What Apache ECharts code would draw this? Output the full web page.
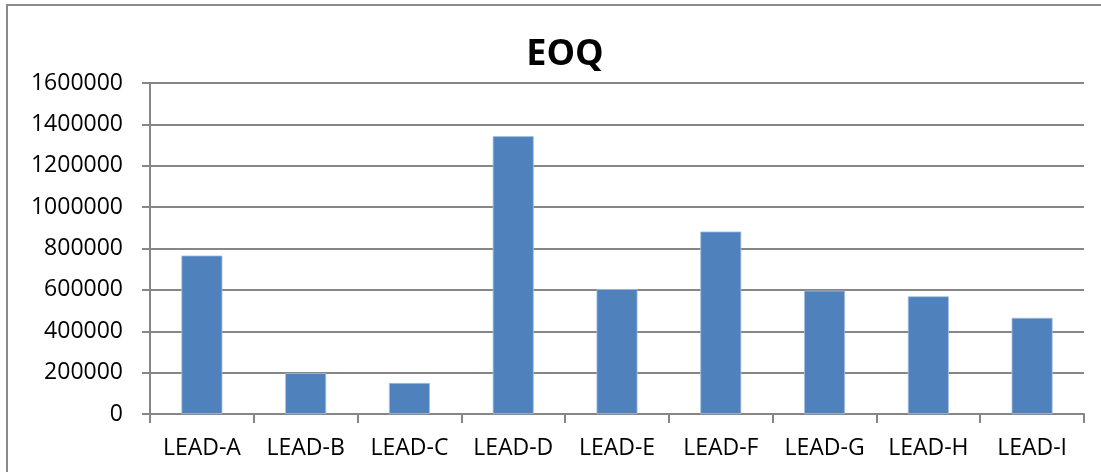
<!DOCTYPE html>
<html>
<head>
<meta charset="utf-8">
<script src="https://cdn.jsdelivr.net/npm/echarts@6/dist/echarts.min.js"></script>
<style>
  html, body { margin: 0; padding: 0; background: #fff; overflow: hidden; }
  #frame {
    position: absolute;
    left: 6px;
    top: 4px;
    width: 1200px;
    height: 600px;
    border: 2px solid #8a8a8a;
    box-sizing: border-box;
  }
  #chart { position: absolute; left: 0; top: 0; width: 1101px; height: 472px; }
</style>
</head>
<body>
<div id="frame"></div>
<div id="chart"></div>
<script>
// 数据
const categories = ['LEAD-A', 'LEAD-B', 'LEAD-C', 'LEAD-D', 'LEAD-E', 'LEAD-F', 'LEAD-G', 'LEAD-H', 'LEAD-I']
const eoqValues = [766000, 198000, 150000, 1343000, 604000, 882000, 596000, 569000, 465000]
const yTicks = { min: 0, max: 1600000, interval: 200000 }

const axisGray = '#868686'
const font = 'Open Sans'

const chart = echarts.init(document.getElementById('chart'))
chart.setOption({
  animation: false,
  title: {
    text: 'EOQ',
    left: 560,
    textAlign: 'center',
    top: 32,
    textStyle: { fontFamily: font, fontWeight: 'bold', fontSize: 36, color: '#000' },
  },
  grid: { left: 150, right: 17, top: 83, bottom: 58, containLabel: false },
  xAxis: {
    type: 'category',
    data: categories,
    boundaryGap: true,
    axisLine: { show: true, lineStyle: { color: axisGray, width: 2 } },
    axisTick: { show: true, interval: 0, alignWithLabel: false, length: 9, lineStyle: { color: axisGray, width: 2 } },
    axisLabel: { interval: 0, hideOverlap: false, margin: 23, fontFamily: font, fontSize: 23, color: '#000' },
  },
  yAxis: {
    type: 'value',
    min: yTicks.min,
    max: yTicks.max,
    interval: yTicks.interval,
    axisLine: { show: true, lineStyle: { color: axisGray, width: 2 } },
    axisTick: { show: true, inside: false, length: 8, lineStyle: { color: axisGray, width: 2 } },
    splitLine: { show: true, lineStyle: { color: axisGray, width: 2 } },
    axisLabel: {
      margin: 27,
      fontFamily: font,
      fontSize: 23,
      color: '#000',
      formatter: (v) => String(v),
    },
  },
  series: [
    {
      type: 'bar',
      data: eoqValues,
      barWidth: 41,
      itemStyle: { color: '#4F81BD', borderColor: '#A7C0DE', borderWidth: 0.8 },
    },
  ],
})
</script>
</body>
</html>
